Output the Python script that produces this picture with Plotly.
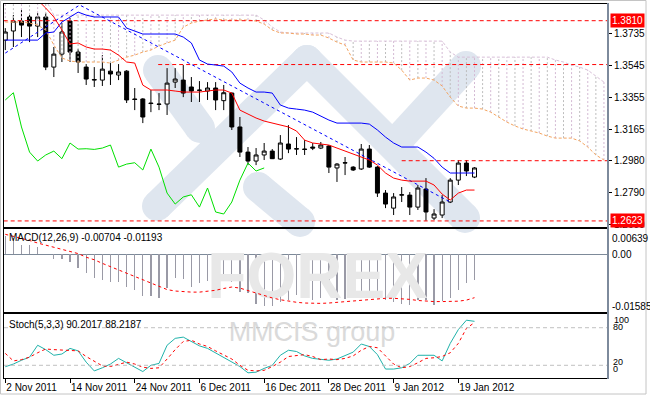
import plotly.graph_objects as go
import pandas as pd

W, H = 650, 398


def fx(p):
    return p / W


def fy(p):
    return 1 - p / H


# ---------------- data ----------------
dates = pd.bdate_range("2011-11-02", "2012-01-23")
n = len(dates)
bars = list(range(n))

open_ = [1.3695, 1.3749, 1.3808, 1.3832, 1.3778, 1.3832, 1.3535, 1.3612, 1.3808, 1.3624,
         1.3535, 1.3458, 1.3458, 1.3511, 1.3488, 1.3511, 1.3346, 1.3346, 1.3322, 1.3316,
         1.3316, 1.3446, 1.3458, 1.3417, 1.3399, 1.3393, 1.3411, 1.3336, 1.3381, 1.3180,
         1.3031, 1.2978, 1.3014, 1.3037, 1.2990, 1.3079, 1.3049, 1.3049, 1.3061, 1.3055,
         1.3067, 1.2937, 1.2966, 1.2942, 1.2931, 1.3049, 1.2942, 1.2788, 1.2699, 1.2776,
         1.2776, 1.2705, 1.2812, 1.2640, 1.2658, 1.2735, 1.2865, 1.2966, 1.2883]
high = [1.3766, 1.3844, 1.3873, 1.3844, 1.3855, 1.3855, 1.3654, 1.3796, 1.3826, 1.3642,
        1.3553, 1.3535, 1.3606, 1.3559, 1.3553, 1.3517, 1.3411, 1.3351, 1.3399, 1.3381,
        1.3529, 1.3529, 1.3547, 1.3476, 1.3452, 1.3446, 1.3446, 1.3429, 1.3384, 1.3239,
        1.3061, 1.3055, 1.3085, 1.3049, 1.3132, 1.3191, 1.3120, 1.3102, 1.3085, 1.3091,
        1.3073, 1.2966, 1.3002, 1.2948, 1.3079, 1.3073, 1.2948, 1.2806, 1.2788, 1.2824,
        1.2794, 1.2836, 1.2877, 1.2693, 1.2776, 1.2877, 1.2984, 1.2984, 1.2942]
low = [1.3636, 1.3654, 1.3713, 1.3683, 1.3713, 1.3517, 1.3476, 1.3565, 1.3565, 1.3500,
       1.3429, 1.3417, 1.3423, 1.3429, 1.3458, 1.3322, 1.3280, 1.3203, 1.3268, 1.3280,
       1.3251, 1.3411, 1.3357, 1.3328, 1.3328, 1.3340, 1.3280, 1.3280, 1.3162, 1.3002,
       1.2954, 1.2954, 1.2984, 1.2990, 1.2984, 1.3025, 1.3014, 1.3014, 1.3043, 1.3049,
       1.2907, 1.2854, 1.2895, 1.2919, 1.2925, 1.2937, 1.2765, 1.2699, 1.2658, 1.2735,
       1.2658, 1.2688, 1.2624, 1.2628, 1.2640, 1.2729, 1.2836, 1.2889, 1.2877]
close = [1.3743, 1.3808, 1.3784, 1.3778, 1.3832, 1.3535, 1.3612, 1.3743, 1.3624, 1.3565,
         1.3464, 1.3461, 1.3523, 1.3494, 1.3506, 1.3340, 1.3343, 1.3239, 1.3319, 1.3314,
         1.3440, 1.3464, 1.3381, 1.3393, 1.3397, 1.3411, 1.3340, 1.3383, 1.3180, 1.3031,
         1.2978, 1.3014, 1.3037, 1.2992, 1.3085, 1.3049, 1.3051, 1.3047, 1.3055, 1.3073,
         1.2942, 1.2960, 1.2968, 1.2925, 1.3049, 1.2942, 1.2788, 1.2723, 1.2765, 1.2778,
         1.2705, 1.2818, 1.2676, 1.2664, 1.2735, 1.2865, 1.2966, 1.2919, 1.2937]

tenkan = [1.4000, 1.3990, 1.3975, 1.3955, 1.3932, 1.3885, 1.3832, 1.3755, 1.3672, 1.3678,
          1.3654, 1.3642, 1.3642, 1.3636, 1.3606, 1.3565, 1.3559, 1.3428, 1.3399, 1.3399,
          1.3399, 1.3393, 1.3387, 1.3387, 1.3387, 1.3393, 1.3399, 1.3399, 1.3381, 1.3280,
          1.3257, 1.3233, 1.3215, 1.3203, 1.3191, 1.3180, 1.3156, 1.3102, 1.3085, 1.3079,
          1.3073, 1.3055, 1.3037, 1.3020, 1.3002, 1.2984, 1.2954, 1.2907, 1.2877, 1.2865,
          1.2859, 1.2859, 1.2859, 1.2836, 1.2782, 1.2747, 1.2788, 1.2806, 1.2806]
kijun = [1.3695, 1.3695, 1.3695, 1.3695, 1.3695, 1.3737, 1.3743, 1.3802, 1.3832, 1.3861,
         1.3843, 1.3832, 1.3832, 1.3832, 1.3832, 1.3766, 1.3749, 1.3731, 1.3731, 1.3731,
         1.3731, 1.3731, 1.3713, 1.3678, 1.3577, 1.3553, 1.3547, 1.3541, 1.3506, 1.3440,
         1.3411, 1.3387, 1.3387, 1.3381, 1.3310, 1.3292, 1.3286, 1.3280, 1.3268, 1.3245,
         1.3221, 1.3203, 1.3203, 1.3203, 1.3203, 1.3197, 1.3162, 1.3120, 1.3085, 1.3061,
         1.3061, 1.3061, 1.3031, 1.2994, 1.2942, 1.2907, 1.2907, 1.2907, 1.2907]
# senkou spans (already shifted 26 bars forward), visible part only
span_a = [1.3802, 1.3802, 1.3802, 1.3796, 1.3784, 1.3755, 1.3666, 1.3589, 1.3571, 1.3565,
          1.3565, 1.3565, 1.3565, 1.3559, 1.3577, 1.3594, 1.3606, 1.3624, 1.3636, 1.3660,
          1.3678, 1.3695, 1.3772, 1.3796, 1.3808, 1.3814, 1.3820, 1.3814, 1.3814, 1.3814,
          1.3814, 1.3808, 1.3790, 1.3755, 1.3737, 1.3737, 1.3731, 1.3731, 1.3725, 1.3725,
          1.3707, 1.3683, 1.3666, 1.3577, 1.3565, 1.3565, 1.3565, 1.3565, 1.3559, 1.3517,
          1.3458, 1.3470, 1.3470, 1.3458, 1.3423, 1.3357, 1.3304, 1.3292, 1.3292, 1.3286,
          1.3268, 1.3239, 1.3209, 1.3186, 1.3168, 1.3156, 1.3144, 1.3126, 1.3114, 1.3114,
          1.3114, 1.3097, 1.3061, 1.3014, 1.2984]
span_b = [1.3935, 1.3935, 1.3935, 1.3935, 1.3935, 1.3935, 1.3843, 1.3843, 1.3843, 1.3843,
          1.3843, 1.3843, 1.3843, 1.3843, 1.3843, 1.3843, 1.3843, 1.3843, 1.3843, 1.3843,
          1.3843, 1.3843, 1.3843, 1.3843, 1.3843, 1.3843, 1.3843, 1.3843, 1.3843, 1.3843,
          1.3843, 1.3843, 1.3814, 1.3772, 1.3743, 1.3737, 1.3737, 1.3737, 1.3737, 1.3737,
          1.3737, 1.3713, 1.3695, 1.3689, 1.3689, 1.3689, 1.3689, 1.3689, 1.3689, 1.3689,
          1.3689, 1.3689, 1.3689, 1.3689, 1.3689, 1.3624, 1.3594, 1.3594, 1.3594, 1.3594,
          1.3594, 1.3594, 1.3594, 1.3594, 1.3594, 1.3594, 1.3594, 1.3594, 1.3577, 1.3565,
          1.3547, 1.3535, 1.3517, 1.3482, 1.3446]
cloud_bars = list(range(len(span_a)))

# hand-drawn objects on the chart
trend_bar = [0, 9.2, 55]
trend_price = [1.3618, 1.3903, 1.2735]
hline_levels = [1.3810, 1.3550, 1.2980, 1.2623]
hline_start = [-0.2, 18.9, 49.0, -0.2]
marked_levels = [1.3810, 1.2623]

price_ticks = [1.3735, 1.3545, 1.3355, 1.3165, 1.2980, 1.2790, 1.2600]

macd_hist = [0.0049, 0.0044, 0.0026, 0.0026, 0.0021, 0.0001, -0.0014, -0.0014, -0.0020, -0.0037,
             -0.0052, -0.0064, -0.0071, -0.0075, -0.0075, -0.0089, -0.0098, -0.0114, -0.0116, -0.0119,
             -0.0092, -0.0066, -0.0068, -0.0089, -0.0080, -0.0073, -0.0084, -0.0071, -0.0077, -0.0103,
             -0.0107, -0.0137, -0.0141, -0.0142, -0.0130, -0.0126, -0.0112, -0.0112, -0.0126, -0.0121,
             -0.0107, -0.0126, -0.0123, -0.0121, -0.0116, -0.0107, -0.0116, -0.0126, -0.0132, -0.0138,
             -0.0139, -0.0126, -0.0126, -0.0139, -0.0128, -0.0119, -0.0098, -0.0080, -0.00704]
macd_signal = [0.0055, 0.0050, 0.0045, 0.0038, 0.0031, 0.0025, 0.0019, 0.0014, 0.0009, 0.0002,
               -0.0008, -0.0015, -0.0025, -0.0034, -0.0043, -0.0052, -0.0060, -0.0069, -0.0079, -0.0089,
               -0.0097, -0.0101, -0.0103, -0.0104, -0.0104, -0.0102, -0.0099, -0.0094, -0.0090, -0.0093,
               -0.0100, -0.0107, -0.0114, -0.0120, -0.0125, -0.0129, -0.0132, -0.0134, -0.0135, -0.0135,
               -0.0134, -0.0132, -0.0130, -0.0128, -0.0126, -0.0124, -0.0122, -0.0121, -0.0121, -0.0122,
               -0.0124, -0.0127, -0.0129, -0.0130, -0.0130, -0.0130, -0.0129, -0.0126, -0.01193]
macd_ticks = ["0.00639", "0.00", "-0.01585"]

stoch_k = [17.7, 22, 28, 33, 52, 45, 36, 38, 47, 43,
           25, 11, 16, 22, 31, 24, 17, 10, 20, 23,
           52, 63, 65, 58, 51, 47, 40, 32, 25, 18,
           8, 9, 15, 20, 36, 44, 42, 35, 31, 30,
           28, 30, 35, 41, 54, 50, 37, 14, 14, 16,
           23, 36, 36, 36, 27, 55, 77, 92, 90.2017]
stoch_d = [39, 27, 29, 33, 40, 46, 45, 44, 43, 43,
           34, 26, 19, 18, 22, 25, 22, 17, 15, 16,
           30, 45, 58, 60, 54, 50, 43, 36, 30, 20,
           12, 11, 12, 18, 25, 34, 36, 37, 34, 29,
           30, 29, 31, 35, 44, 50, 48, 35, 22, 16,
           18, 24, 31, 32, 34, 40, 55, 79, 88.2187]
stoch_levels = [80, 20]
stoch_ticks = ["100", "80", "20", "0"]

label_dates = ["2011-11-02", "2011-11-14", "2011-11-24", "2011-12-06",
               "2011-12-16", "2011-12-28", "2012-01-09", "2012-01-19"]

# ---------------- derived ----------------
chikou_x = bars[: n - 26]
chikou_y = close[26:]
date_list = list(dates)
date_pos = [date_list.index(pd.Timestamp(d)) for d in label_dates]
date_txt = [f"{pd.Timestamp(d).day} {pd.Timestamp(d).strftime('%b %Y')}" for d in label_dates]

XR = [-0.16, 74.5]
FONT = "Liberation Sans"

fig = go.Figure()

# watermark text (behind data)
fig.add_trace(go.Scatter(x=[38.6], y=[-0.0077], mode="text", text=["<b>FOREX</b>"],
                         textfont=dict(size=64, color="#e8e8e8", family=FONT),
                         xaxis="x2", yaxis="y2", hoverinfo="skip"))
fig.add_trace(go.Scatter(x=[37.9], y=[70], mode="text", text=["MMCIS group"],
                         textfont=dict(size=27, color="#dadada", family=FONT),
                         xaxis="x3", yaxis="y3", hoverinfo="skip"))

# cloud hatch
for parity, col in ((0, "#d3b9d3"), (1, "#bdbdbd")):
    hx, hy = [], []
    for i in cloud_bars:
        if i % 2 == parity:
            hx += [i, i, None]
            hy += [span_a[i], span_b[i], None]
    fig.add_trace(go.Scatter(x=hx, y=hy, mode="lines",
                             line=dict(color=col, width=1, dash="2px,2px"),
                             hoverinfo="skip"))
fig.add_trace(go.Scatter(x=cloud_bars, y=span_b, mode="lines",
                         line=dict(color="#D8BFD8", width=1, dash="3px,2px"), hoverinfo="skip"))
fig.add_trace(go.Scatter(x=cloud_bars, y=span_a, mode="lines",
                         line=dict(color="#F4A460", width=1, dash="3px,2px"), hoverinfo="skip"))

# horizontal levels
for lvl, st in zip(hline_levels, hline_start):
    fig.add_trace(go.Scatter(x=[st, XR[1]], y=[lvl, lvl], mode="lines",
                             line=dict(color="#ff0000", width=1, dash="4px,3px"), hoverinfo="skip"))

# candles
fig.add_trace(go.Candlestick(x=bars, open=open_, high=high, low=low, close=close,
                             increasing=dict(fillcolor="white", line=dict(color="black", width=1)),
                             decreasing=dict(fillcolor="black", line=dict(color="black", width=1)),
                             whiskerwidth=0, hoverinfo="skip"))

# ichimoku lines
fig.add_trace(go.Scatter(x=chikou_x, y=chikou_y, mode="lines",
                         line=dict(color="#00e000", width=1), hoverinfo="skip"))
fig.add_trace(go.Scatter(x=trend_bar, y=trend_price, mode="lines",
                         line=dict(color="#0000ff", width=1, dash="3px,3px"), hoverinfo="skip"))
fig.add_trace(go.Scatter(x=bars, y=kijun, mode="lines",
                         line=dict(color="#0000ff", width=1), hoverinfo="skip"))
fig.add_trace(go.Scatter(x=bars, y=tenkan, mode="lines",
                         line=dict(color="#ff0000", width=1), hoverinfo="skip"))

# MACD
fig.add_trace(go.Bar(x=bars, y=macd_hist, width=0.16, marker=dict(color="#9a9aa6", line_width=0),
                     xaxis="x2", yaxis="y2", hoverinfo="skip"))
fig.add_trace(go.Scatter(x=bars, y=macd_signal, mode="lines",
                         line=dict(color="#ff0000", width=1, dash="3px,3px"),
                         xaxis="x2", yaxis="y2", hoverinfo="skip"))

# Stochastic
fig.add_trace(go.Scatter(x=bars, y=stoch_k, mode="lines",
                         line=dict(color="#20B2AA", width=1), xaxis="x3", yaxis="y3", hoverinfo="skip"))
fig.add_trace(go.Scatter(x=bars, y=stoch_d, mode="lines",
                         line=dict(color="#ff0000", width=1, dash="3px,3px"),
                         xaxis="x3", yaxis="y3", hoverinfo="skip"))

xdom = [fx(4), fx(608)]
axis_common = dict(showgrid=False, zeroline=False, showline=True, mirror=True,
                   linecolor="black", linewidth=1, automargin=False)

fig.update_layout(
    width=W, height=H, margin=dict(l=0, r=0, t=0, b=0, autoexpand=False),
    paper_bgcolor="white", plot_bgcolor="rgba(0,0,0,0)",
    showlegend=False, bargap=0,
    font=dict(family=FONT, size=10, color="black"),
    xaxis=dict(domain=xdom, range=XR, anchor="y", showticklabels=False, ticks="",
               rangeslider=dict(visible=False), **axis_common),
    xaxis2=dict(domain=xdom, range=XR, anchor="y2", showticklabels=False, ticks="",
                matches="x", **axis_common),
    xaxis3=dict(domain=xdom, range=XR, anchor="y3", matches="x",
                tickvals=date_pos, ticktext=date_txt, ticks="outside", ticklen=4,
                tickcolor="black", ticklabelposition="outside right", ticklabeloverflow="allow",
                tickangle=0, tickfont=dict(size=10, family=FONT, color="black"), **axis_common),
    yaxis=dict(domain=[fy(227), fy(4)], range=[1.2587, 1.3909], anchor="x", side="right",
               tickvals=price_ticks, ticktext=[f"{v:.4f}" for v in price_ticks],
               ticks="outside", ticklen=3, tickcolor="black", ticklabeloverflow="allow",
               tickfont=dict(size=10, family=FONT, color="black"), **axis_common),
    yaxis2=dict(domain=[fy(312), fy(229)], range=[-0.01587, 0.00696], anchor="x2",
                showticklabels=False, ticks="", showgrid=False, showline=True, mirror=True,
                linecolor="black", linewidth=1, automargin=False,
                zeroline=True, zerolinecolor="#7d8a99", zerolinewidth=1),
    yaxis3=dict(domain=[fy(378), fy(314)], range=[-0.3, 101.9], anchor="x3",
                showticklabels=False, ticks="", **axis_common),
)

shapes = []
# watermark bands (px coordinates)
bands = [((158, 70), (200, 128)), ((157, 206), (307, 60)), ((307, 60), (465, 218)),
         ((258, 187), (300, 222)), ((398, 140), (466, 66))]
band_col = "#dfe6ef"
r = 15
for (x0, y0), (x1, y1) in bands:
    shapes.append(dict(type="line", xref="paper", yref="paper", x0=fx(x0), y0=fy(y0),
                       x1=fx(x1), y1=fy(y1), line=dict(color=band_col, width=2 * r), layer="below"))
    for (cx, cy) in ((x0, y0), (x1, y1)):
        shapes.append(dict(type="circle", xref="paper", yref="paper",
                           x0=fx(cx - r), x1=fx(cx + r), y0=fy(cy + r), y1=fy(cy - r),
                           fillcolor=band_col, line=dict(width=0), layer="below"))
# stochastic levels
for lv in stoch_levels:
    shapes.append(dict(type="line", xref="x3 domain", yref="y3", x0=0, x1=1, y0=lv, y1=lv,
                       line=dict(color="#c0c0c0", width=1, dash="4px,3px")))
# right separator and outer frame
shapes.append(dict(type="line", xref="paper", yref="paper", x0=fx(608), x1=fx(608),
                   y0=fy(3), y1=fy(379), line=dict(color="#7d8a9c", width=2)))
shapes.append(dict(type="rect", xref="paper", yref="paper", x0=fx(0.5), x1=fx(646),
                   y0=fy(394), y1=fy(0.5), line=dict(color="#c4c4c4", width=1)))
fig.update_layout(shapes=shapes)

ann = []
for lv in marked_levels:
    ann.append(dict(x=fx(610), y=lv, xref="paper", yref="y", xanchor="left", yanchor="middle",
                    text=f"{lv:.4f}", showarrow=False, bgcolor="#ff0000", borderpad=1,
                    font=dict(color="white", size=10, family=FONT)))
ann.append(dict(x=fx(7), y=fy(237), xref="paper", yref="paper", xanchor="left", yanchor="middle",
                text=f"MACD(12,26,9) {macd_hist[-1]:.5f} {macd_signal[-1]:.5f}",
                showarrow=False, font=dict(size=10, family=FONT, color="black")))
for txt, ypx in zip(macd_ticks, [238, 254, 306]):
    ann.append(dict(x=fx(610), y=fy(ypx), xref="paper", yref="paper", xanchor="left",
                    yanchor="middle", text=txt, showarrow=False,
                    font=dict(size=10, family=FONT, color="black")))
ann.append(dict(x=fx(7), y=fy(324), xref="paper", yref="paper", xanchor="left", yanchor="middle",
                text=f"Stoch(5,3,3) {stoch_k[-1]:.4f} {stoch_d[-1]:.4f}",
                showarrow=False, font=dict(size=10, family=FONT, color="black")))
for txt, xpx, ypx in zip(stoch_ticks, [612, 611, 611, 611], [320, 327, 362, 369]):
    ann.append(dict(x=fx(xpx), y=fy(ypx), xref="paper", yref="paper", xanchor="left",
                    yanchor="middle", text=txt, showarrow=False,
                    font=dict(size=9, family=FONT, color="black")))
fig.update_layout(annotations=ann)

fig.write_html("out.html", config={"displayModeBar": False, "staticPlot": True},
               post_script="document.body.style.margin='0';document.body.style.overflow='hidden';")
